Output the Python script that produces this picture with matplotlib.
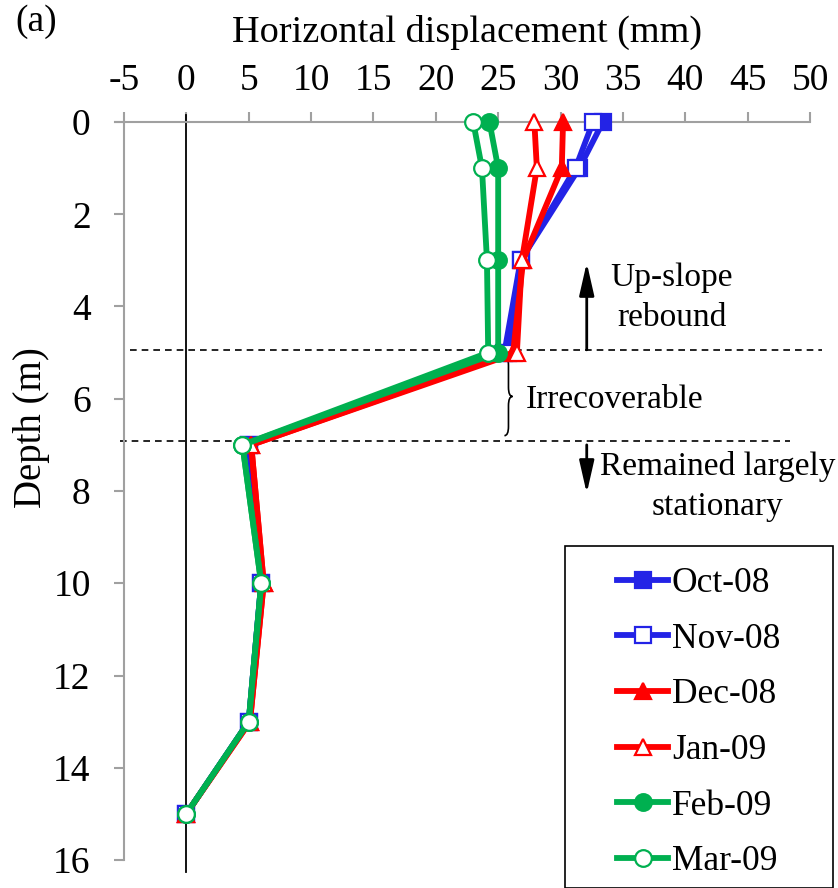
import matplotlib
matplotlib.use('Agg')
import matplotlib.pyplot as plt
from matplotlib.path import Path
from matplotlib.patches import PathPatch, Rectangle

plt.rcParams['font.family'] = ['Liberation Serif', 'DejaVu Serif']

# Depth of the inclinometer readings (m)
depth = [0, 1, 3, 5, 7, 10, 13, 15]

# Horizontal displacement (mm) per survey month
oct08 = [33.4, 31.5, 26.8, 25.5, 5.0, 6.0, 5.0, 0.0]
nov08 = [32.6, 31.2, 26.8, 25.8, 5.0, 6.0, 5.0, 0.0]
dec08 = [30.2, 30.1, 27.0, 26.2, 5.2, 6.2, 5.1, 0.0]
jan09 = [27.9, 28.1, 26.9, 26.5, 5.2, 6.2, 5.1, 0.0]
feb09 = [24.3, 25.0, 25.0, 25.0, 4.5, 6.0, 5.0, 0.0]
mar09 = [23.0, 23.7, 24.1, 24.2, 4.5, 6.0, 5.0, 0.0]

labels = ['Oct-08', 'Nov-08', 'Dec-08', 'Jan-09', 'Feb-09', 'Mar-09']
xticks = [-5, 0, 5, 10, 15, 20, 25, 30, 35, 40, 45, 50]
yticks = [0, 2, 4, 6, 8, 10, 12, 14, 16]

blue = '#2323E6'
red = '#FF0000'
green = '#00B050'

fig = plt.figure(figsize=(8.38, 8.88), dpi=100)
ax = fig.add_axes([124 / 838, 1 - 860 / 888, (810 - 124) / 838, (860 - 122) / 888])

series = [
    (oct08, blue, 's', blue),
    (nov08, blue, 's', 'white'),
    (dec08, red, '^', red),
    (jan09, red, '^', 'white'),
    (feb09, green, 'o', green),
    (mar09, green, 'o', 'white'),
]
for (vals, col, mk, face), lab in zip(series, labels):
    ax.plot(vals, depth, color=col, lw=4.2, marker=mk, markersize=12,
            markerfacecolor=face, markeredgecolor=col, markeredgewidth=1.6,
            label=lab, clip_on=False, zorder=3)

ax.set_xlim(-5, 50)
ax.set_ylim(16, 0)
ax.set_xticks(xticks)
ax.set_xticklabels([str(t) for t in xticks])
ax.set_yticks(yticks)
ax.xaxis.tick_top()

gray = '#A0A0A0'
for side in ['right', 'bottom']:
    ax.spines[side].set_visible(False)
for side in ['left', 'top']:
    ax.spines[side].set_color(gray)
    ax.spines[side].set_linewidth(1.5)
ax.tick_params(axis='both', colors=gray, labelcolor='black', labelsize=27,
               length=7, width=1.5, direction='out')
ax.tick_params(axis='x', pad=10)
ax.tick_params(axis='y', pad=17)

# zero displacement reference line
ax.plot([0, 0], [-0.15, 16.25], color='black', lw=1.3, clip_on=False, zorder=2)
# extend top axis line slightly left
ax.plot([-5.7, -5], [0, 0], color=gray, lw=1.5, clip_on=False)

# dashed boundaries
ax.plot([-4.5, 51.0], [4.94, 4.94], color='black', lw=1.2, ls=(0, (4, 3)), clip_on=False)
ax.plot([-5.3, 48.4], [6.92, 6.92], color='black', lw=1.2, ls=(0, (4, 3)), clip_on=False)

# arrows
astyle = dict(arrowstyle='-|>,head_width=0.25,head_length=1.1', lw=2,
              color='black', mutation_scale=18, shrinkA=0, shrinkB=0)
ax.annotate('', xy=(32.1, 3.05), xytext=(32.1, 4.94), arrowprops=astyle)
ax.annotate('', xy=(32.1, 8.05), xytext=(32.1, 7.0), arrowprops=astyle)

ax.text(38.9, 3.82, 'Up-slope\nrebound', fontsize=24, ha='center', va='center',
        linespacing=1.4)
ax.text(42.6, 7.9, 'Remained largely\nstationary', fontsize=24, ha='center',
        va='center', linespacing=1.4)
ax.text(27.2, 6.03, 'Irrecoverable', fontsize=24, ha='left', va='center')

# curly brace
x0, w = 25.5, 0.65
yt, ym, yb, h = 5.08, 5.95, 6.8, 0.2
xc = x0 + w / 2
verts = [(x0, yt), (xc, yt), (xc, yt + h), (xc, ym - h), (xc, ym), (x0 + w, ym),
         (xc, ym), (xc, ym + h), (xc, yb - h), (xc, yb), (x0, yb)]
codes = [Path.MOVETO, Path.CURVE3, Path.CURVE3, Path.LINETO, Path.CURVE3, Path.CURVE3,
         Path.CURVE3, Path.CURVE3, Path.LINETO, Path.CURVE3, Path.CURVE3]
ax.add_patch(PathPatch(Path(verts, codes), fill=False, lw=1.2, color='black', clip_on=False))

fig.text(467 / 838, 1 - 32 / 888, 'Horizontal displacement (mm)', fontsize=27.5,
         ha='center', va='center')
fig.text(32 / 838, 1 - 428 / 888, 'Depth (m)', fontsize=28, rotation=90,
         ha='center', va='center')
fig.text(15 / 838, 1 - 22 / 888, '(a)', fontsize=27, ha='left', va='center')

# legend with its own frame
fig.patches.append(Rectangle((565 / 838, 0), (833 - 565) / 838, 1 - 555 / 888 + 0.01,
                             transform=fig.transFigure, fill=False, edgecolor='black',
                             lw=1.2, clip_on=False))
fig.legend(loc='upper left', bbox_to_anchor=(617 / 838, 1 - 567 / 888), frameon=False,
           fontsize=25.5, handlelength=1.45, handletextpad=0.1, labelspacing=0.64,
           borderpad=0, borderaxespad=0)

fig.savefig('out.png', dpi=100)
